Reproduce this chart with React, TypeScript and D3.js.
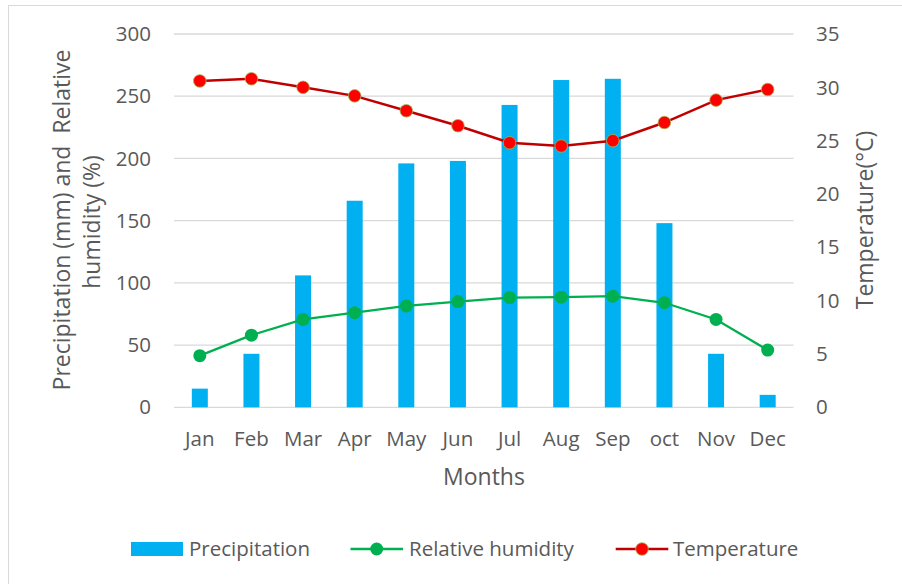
import React from "react";
import * as d3 from "d3";

const months = ["Jan", "Feb", "Mar", "Apr", "May", "Jun", "Jul", "Aug", "Sep", "oct", "Nov", "Dec"];
const precipitation = [15, 43, 106, 166, 196, 198, 243, 263, 264, 148, 43, 10];
const humidity = [41.5, 58, 70.6, 76, 81.5, 85, 88.2, 88.5, 89.3, 84, 70.6, 46];
const temperature = [30.6, 30.8, 30.0, 29.2, 27.8, 26.4, 24.8, 24.5, 25.0, 26.7, 28.8, 29.8];
const leftTicks = [0, 50, 100, 150, 200, 250, 300];
const rightTicks = [0, 5, 10, 15, 20, 25, 30, 35];

const W = 902;
const H = 584;
const FONT = "'Open Sans', sans-serif";
const TXT = "#595959";
const TICK = 20.5;
const TITLE = 23;

export default function App() {
  const x = d3.scaleBand<string>().domain(months).range([174, 793.5]).paddingInner(0.69).paddingOuter(0.345);
  const yL = d3.scaleLinear().domain([0, 300]).range([407.3, 34]);
  const yR = d3.scaleLinear().domain([0, 35]).range([407.3, 34]);
  const cx = (m: string) => (x(m) as number) + x.bandwidth() / 2;

  const humLine = d3.line<number>().x((_, i) => cx(months[i])).y((d) => yL(d));
  const tempLine = d3.line<number>().x((_, i) => cx(months[i])).y((d) => yR(d));

  return (
    <svg width={W} height={H} style={{ position: "absolute", left: 0, top: 0, background: "#fff" }} fontFamily={FONT}>
      <rect x={8.5} y={5.5} width={905} height={600} fill="#fff" stroke="#d9d9d9" strokeWidth={1} />
      {leftTicks.map((t) => (
        <line key={t} x1={174} x2={793.5} y1={yL(t)} y2={yL(t)} stroke="#d9d9d9" strokeWidth={1.3} />
      ))}
      {leftTicks.map((t) => (
        <text key={"l" + t} x={151} y={yL(t)} dy="0.35em" textAnchor="end" fontSize={TICK} fill={TXT}>
          {t}
        </text>
      ))}
      {rightTicks.map((t) => (
        <text key={"r" + t} x={816} y={yR(t)} dy="0.35em" textAnchor="start" fontSize={TICK} fill={TXT}>
          {t}
        </text>
      ))}
      {precipitation.map((v, i) => (
        <rect key={i} x={x(months[i])} y={yL(v)} width={x.bandwidth()} height={yL(0) - yL(v)} fill="#00b0f0" />
      ))}
      <path d={humLine(humidity) || ""} fill="none" stroke="#00b050" strokeWidth={2.3} />
      {humidity.map((v, i) => (
        <circle key={i} cx={cx(months[i])} cy={yL(v)} r={6.5} fill="#00b050" />
      ))}
      <path d={tempLine(temperature) || ""} fill="none" stroke="#c00000" strokeWidth={2.5} />
      {temperature.map((v, i) => (
        <circle key={i} cx={cx(months[i])} cy={yR(v)} r={6.3} fill="#ff0000" stroke="#9bbb59" strokeWidth={0.8} />
      ))}
      {months.map((m) => (
        <text key={m} x={cx(m)} y={446} textAnchor="middle" fontSize={TICK} fill={TXT}>
          {m}
        </text>
      ))}
      <text x={484} y={485} textAnchor="middle" fontSize={TITLE} fill={TXT}>Months</text>
      <text transform="translate(70,220) rotate(-90)" textAnchor="middle" fontSize={TITLE} fill={TXT} style={{ whiteSpace: "pre" }}>
        {"Precipitation (mm) and  Relative"}
      </text>
      <text transform="translate(100,222) rotate(-90)" textAnchor="middle" fontSize={TITLE} fill={TXT}>
        humidity (%)
      </text>
      <text transform="translate(873,220) rotate(-90)" textAnchor="middle" fontSize={TITLE} fill={TXT}>
        Temperature(°C)
      </text>
      {/* legend */}
      <rect x={131} y={542} width={52} height={14} fill="#00b0f0" />
      <text x={189} y={556} fontSize={TICK} fill={TXT}>Precipitation</text>
      <line x1={350.5} x2={403} y1={549} y2={549} stroke="#00b050" strokeWidth={2.3} />
      <circle cx={376.7} cy={549} r={6.5} fill="#00b050" />
      <text x={409} y={556} fontSize={TICK} fill={TXT}>Relative humidity</text>
      <line x1={615.7} x2={668.3} y1={549} y2={549} stroke="#c00000" strokeWidth={2.5} />
      <circle cx={642} cy={549} r={6.3} fill="#ff0000" stroke="#9bbb59" strokeWidth={0.8} />
      <text x={673} y={556} fontSize={TICK} fill={TXT}>Temperature</text>
    </svg>
  );
}
